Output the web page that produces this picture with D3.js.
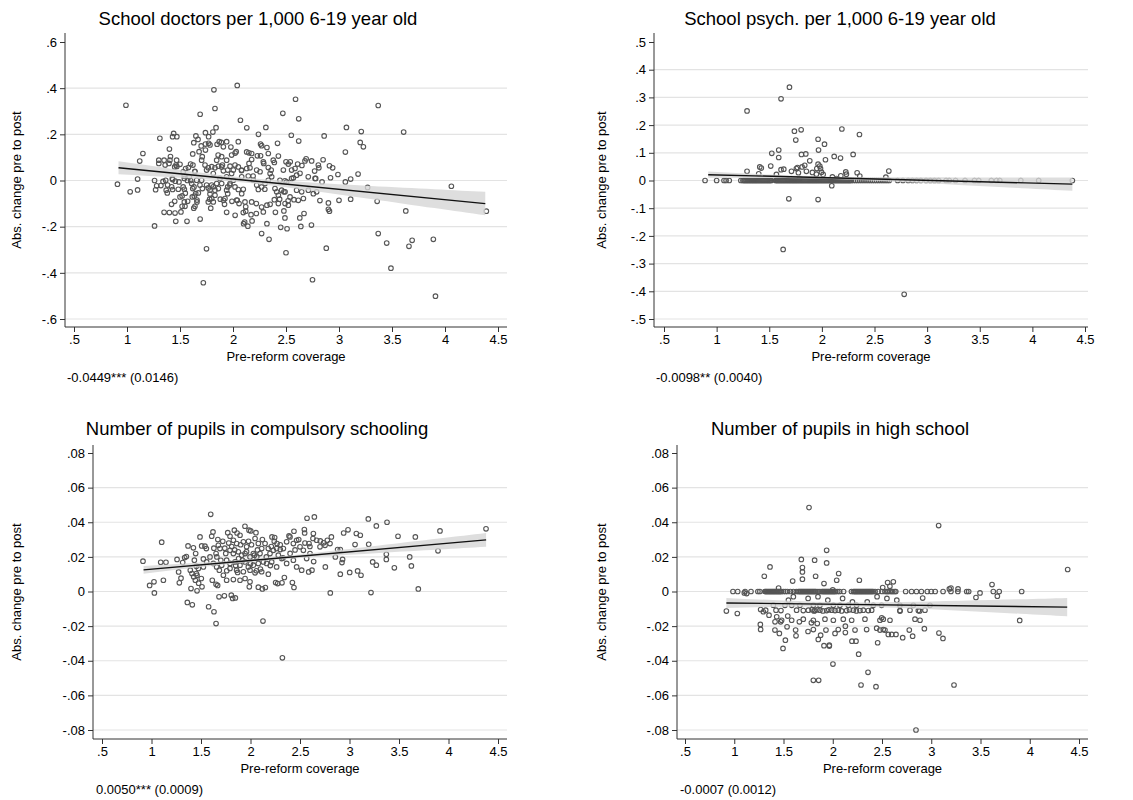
<!DOCTYPE html>
<html>
<head>
<meta charset="utf-8">
<script src="https://cdn.jsdelivr.net/npm/d3@7"></script>
<style>
  body { margin: 0; background: #fff; }
  svg text { font-family: "Liberation Sans", Arial, sans-serif; fill: #000; }
</style>
</head>
<body>
<div id="chart"></div>
<script>
// ---- data ----
var titles = [
    "School doctors per 1,000 6-19 year old",
    "School psych. per 1,000 6-19 year old",
    "Number of pupils in compulsory schooling",
    "Number of pupils in high school"
];
var notes = ["-0.0449*** (0.0146)", "-0.0098** (0.0040)", "0.0050*** (0.0009)", "-0.0007 (0.0012)"];
var xTitle = "Pre-reform coverage";
var yTitle = "Abs. change pre to post";

var xTicks = [0.5, 1, 1.5, 2, 2.5, 3, 3.5, 4, 4.5];
var yTicksDoc = [-0.6, -0.4, -0.2, 0, 0.2, 0.4, 0.6];
var yTicksPsy = [-0.5, -0.4, -0.3, -0.2, -0.1, 0, 0.1, 0.2, 0.3, 0.4, 0.5];
var yTicksPup = [-0.08, -0.06, -0.04, -0.02, 0, 0.02, 0.04, 0.06, 0.08];

// fitted line ends (x = min and max coverage) and CI half widths
var fitX = [0.92, 4.38];
var fitDoc = [0.055, -0.100];
var fitPsy = [0.021, -0.013];
var fitComp = [0.0125, 0.0298];
var fitHigh = [-0.0066, -0.0090];
var bandX = [0.92, 1.5, 2.1, 2.7, 3.3, 3.9, 4.38];
var bandDoc = [0.028, 0.017, 0.011, 0.017, 0.028, 0.041, 0.051];
var bandPsy = [0.0115, 0.0064, 0.0041, 0.008, 0.0135, 0.0193, 0.024];
var bandComp = [0.0022, 0.0013, 0.0008, 0.0013, 0.0022, 0.0032, 0.004];
var bandHigh = [0.0029, 0.00175, 0.0011, 0.00175, 0.0029, 0.0042, 0.0053];

var doctorPts = [
[0.91,-0.016],[0.99,0.326],[1.03,-0.049],[1.10,0.006],[1.10,-0.041],[1.12,0.084],[1.15,0.117],
[1.26,0.0],[1.26,-0.197],[1.27,-0.04],[1.28,-0.023],[1.31,0.183],[1.30,0.088],[1.30,0.074],[1.32,-0.022],
[1.34,-0.004],[1.35,-0.138],[1.35,0.088],[1.36,0.067],[1.37,-0.042],[1.38,-0.054],[1.40,-0.139],[1.40,0.136],
[1.41,0.104],[1.42,-0.103],[1.43,-0.039],[1.43,0.004],[1.43,0.19],[1.44,0.204],[1.46,-0.177],[1.45,-0.09],
[1.47,0.19],[1.45,0.059],[1.47,0.061],[1.49,-0.006],[1.50,0.07],[1.50,-0.071],[1.52,-0.112],[1.52,-0.067],
[1.53,-0.028],[1.53,0.038],[1.54,0.02],[1.55,-0.055],[1.57,0.0],[1.60,0.071],[1.60,0.0],[1.62,0.115],
[1.63,-0.12],[1.63,0.164],[1.62,-0.035],[1.64,0.04],[1.65,0.193],[1.66,-0.085],[1.66,-0.093],[1.67,0.178],
[1.68,0.125],[1.69,-0.167],[1.69,0.287],[1.70,0.15],[1.71,0.103],[1.72,-0.443],[1.74,0.207],[1.74,0.132],
[1.74,0.158],[1.83,0.312],[1.82,0.393],[1.75,-0.296],[1.77,0.19],[1.77,0.161],[1.81,0.21],[1.84,0.229],
[1.85,0.157],[1.86,0.11],[1.87,0.168],[1.79,-0.12],[1.78,-0.081],[1.88,-0.081],[1.89,0.165],[1.90,0.067],
[1.91,-0.086],[1.92,-0.103],[1.94,-0.138],[1.95,-0.057],[1.97,-0.02],[1.98,0.145],[1.99,-0.09],[2.02,-0.151],
[2.02,0.119],[2.03,0.125],[2.04,-0.086],[2.04,0.412],[2.07,0.261],[2.08,0.043],[2.10,-0.187],[2.11,-0.18],
[2.12,-0.133],[2.12,-0.114],[2.13,0.228],[2.14,-0.198],[2.15,0.12],[2.16,0.055],[2.18,-0.175],[2.19,0.019],
[2.22,-0.143],[2.23,0.107],[2.24,0.2],[2.26,0.107],[2.26,0.158],[2.27,0.151],[2.27,-0.23],[2.29,0.074],
[2.30,-0.038],[2.31,0.23],[2.32,0.143],[2.32,-0.107],[2.32,-0.187],[2.34,-0.255],[2.35,0.03],[2.35,-0.103],
[2.36,0.045],[2.39,0.078],[2.40,-0.138],[2.39,-0.083],[2.42,0.161],[2.44,-0.081],[2.45,-0.203],[2.47,0.291],
[2.48,-0.049],[2.48,-0.132],[2.49,-0.001],[2.49,-0.162],[2.50,0.081],[2.50,-0.313],[2.51,-0.209],[2.52,-0.088],
[2.54,0.081],[2.55,0.196],[2.57,0.012],[2.59,0.352],[2.60,0.023],[2.60,-0.042],[2.61,0.071],[2.62,0.267],
[2.62,0.171],[2.63,-0.162],[2.64,-0.199],[2.65,0.065],[2.67,-0.143],[2.69,0.094],[2.71,0.016],[2.74,-0.193],
[2.75,-0.43],[2.77,0.041],[2.78,0.009],[2.81,0.055],[2.82,-0.087],[2.84,-0.006],[2.85,0.09],[2.86,0.193],
[2.88,-0.293],[2.91,0.064],[2.90,-0.097],[2.90,-0.125],[2.91,-0.133],[2.92,0.012],[2.94,0.055],[2.99,0.026],
[3.00,-0.086],[3.06,-0.006],[3.06,0.123],[3.07,0.23],[3.11,-0.081],[3.11,0.006],[3.18,0.028],[3.20,0.165],
[3.21,0.212],[3.23,0.146],[3.27,-0.03],[3.37,0.325],[3.36,-0.09],[3.37,-0.23],[3.45,-0.271],[3.49,-0.38],
[3.61,0.21],[3.63,-0.132],[3.66,-0.285],[3.69,-0.259],[3.89,-0.255],[3.91,-0.501],[4.06,-0.025],[4.39,-0.133],
[1.405,0.088],[1.468,0.088],[1.396,0.074],[1.462,0.067],[1.553,0.052],[1.579,0.056],[1.622,0.067],[1.365,0.001],
[1.428,0.009],[1.456,-0.003],[1.383,-0.02],[1.421,-0.027],[1.484,-0.038],[1.541,-0.038],[1.541,0.009],[1.588,0.016],
[1.61,-0.013],[1.632,-0.028],[1.657,0.001],[1.648,-0.057],[1.616,-0.071],[1.635,-0.068],[1.673,-0.054],[1.541,-0.093],
[1.547,-0.112],[1.572,-0.09],[1.641,-0.112],[1.453,-0.141],[1.509,-0.136],[1.566,-0.177],[1.736,0.067],[1.751,0.045],
[1.767,0.055],[1.799,0.06],[1.83,0.055],[1.862,0.062],[1.893,0.059],[1.909,0.042],[1.95,0.045],[1.972,0.062],
[2.019,0.067],[2.05,0.059],[2.082,0.045],[2.129,0.052],[2.151,0.074],[2.176,0.091],[2.223,0.045],[2.255,0.038],
[2.286,0.081],[2.333,0.056],[1.751,-0.02],[1.767,-0.032],[1.783,-0.042],[1.799,-0.02],[1.814,-0.027],[1.83,-0.042],
[1.846,-0.013],[1.862,-0.035],[1.783,-0.059],[1.799,-0.078],[1.767,-0.093],[1.814,-0.093],[1.924,-0.078],[1.94,-0.042],
[1.972,-0.013],[2.003,0.001],[2.019,-0.028],[2.05,-0.039],[2.082,-0.057],[2.097,-0.038],[2.035,-0.085],[2.057,-0.1],
[2.113,-0.093],[2.176,-0.093],[2.22,-0.1],[2.097,-0.139],[2.17,-0.148],[2.27,-0.115],[2.286,-0.136],[2.223,-0.02],
[2.239,-0.039],[2.27,-0.028],[2.302,-0.013],[2.333,0.001],[2.396,-0.035],[2.412,-0.049],[2.428,-0.064],[2.459,-0.042],
[2.491,-0.049],[2.538,-0.071],[2.428,-0.1],[2.491,-0.1],[2.522,-0.107],[2.575,-0.083],[2.616,-0.086],[2.333,0.117],
[2.38,0.088],[2.428,0.106],[2.475,0.045],[2.522,0.071],[2.553,0.045],[2.585,0.052],[2.632,0.031],[2.679,0.085],
[2.742,0.085],[2.805,0.067],[2.774,0.009],[2.711,-0.042],[2.758,-0.057],[2.789,-0.049],[2.648,-0.049],[2.664,-0.078],
[1.893,0.103],[1.94,0.088],[1.987,0.11],[2.129,0.124],[2.176,0.117],[2.003,0.045],[1.814,0.03],[1.877,0.009],
[1.94,0.016],[1.987,0.03],[2.082,0.016],[2.144,0.019],[2.192,0.001],[2.365,0.016],[2.443,0.001],[2.506,-0.006],
[2.553,0.009],[1.846,0.088],[1.909,0.146],[1.94,0.168],[2.05,0.168],[1.783,0.154],[1.704,0.088],[1.641,0.038],
[1.704,0.001],[1.711,-0.035],[1.688,-0.02],[1.893,-0.013],[1.95,-0.028],[1.83,-0.064]
];

var psychPts = [
[1.289,0.251],[1.612,0.295],[1.692,0.337],[1.632,-0.249],[1.686,-0.066],[1.739,0.178],[1.803,0.183],[1.752,0.146],
[1.964,0.149],[1.968,0.11],[2.025,0.131],[2.19,0.186],[2.357,0.166],[1.59,0.11],[1.59,0.083],[1.524,0.098],
[1.806,0.094],[1.847,0.096],[1.885,0.071],[2.034,0.075],[2.117,0.087],[2.177,0.081],[2.297,0.094],[1.964,-0.069],
[2.782,-0.411],[2.094,-0.019],[1.289,0.033],[1.41,0.049],[1.425,0.045],[1.514,0.052],[1.4,0.024],[1.568,0.022],
[1.612,0.039],[1.638,0.041],[1.711,0.033],[1.758,0.043],[1.768,0.047],[1.777,0.028],[1.812,0.049],[1.837,0.055],
[1.853,0.033],[1.91,0.029],[1.952,0.043],[1.964,0.059],[1.98,0.052],[1.987,0.043],[1.996,0.03],[2.012,0.022],
[1.948,0.023],[1.942,0.007],[2.1,0.013],[2.18,0.017],[2.227,0.031],[2.233,0.023],[2.335,0.028],[2.608,0.012],
[2.636,0.034],[2.36,0.016],[2.14,0.007],[1.79,0.007],[1.68,0.001]
];
// municipalities with no change in school psychologists (dense row at 0)
var psychZeroX = [0.89, 1.0, 1.07, 1.09, 1.12,
    1.23, 1.25, 1.26, 1.27, 1.28, 1.29, 1.3, 1.31, 1.32, 1.33, 1.34, 1.35, 1.36, 1.37, 1.38, 1.39, 1.4, 1.41,
    1.42, 1.43, 1.44, 1.45, 1.46, 1.47, 1.48, 1.49, 1.5, 1.51, 1.52,
    1.56, 1.57, 1.58, 1.59, 1.6, 1.61, 1.62, 1.63, 1.64, 1.65, 1.66, 1.67, 1.68, 1.69, 1.7, 1.71, 1.72, 1.73,
    1.74, 1.75, 1.76, 1.77, 1.78, 1.79, 1.8, 1.81, 1.82, 1.83, 1.84, 1.85, 1.86, 1.87, 1.88, 1.89, 1.9, 1.91,
    1.92, 1.93, 1.94, 1.95, 1.96, 1.97, 1.98, 1.99, 2.0, 2.01, 2.02, 2.03, 2.04, 2.05, 2.06, 2.07, 2.08, 2.09,
    2.1, 2.11, 2.12, 2.13, 2.14, 2.15, 2.16, 2.17, 2.18, 2.19, 2.2, 2.21, 2.22, 2.23, 2.24, 2.25, 2.26, 2.27,
    2.28, 2.3, 2.32, 2.34, 2.36, 2.38, 2.4, 2.42, 2.44, 2.46, 2.48, 2.5, 2.52, 2.54, 2.56, 2.58, 2.6, 2.62, 2.64,
    2.72, 2.77, 2.82, 2.86, 2.9, 2.94, 2.99, 3.03, 3.07, 3.11, 3.18, 3.21, 3.27, 3.36, 3.45, 3.49, 3.61, 3.66,
    3.69, 3.89, 4.06, 4.38];

var compulsoryPts = [
[0.914,0.0175],[0.981,0.0035],[1.025,0.0056],[1.029,-0.0008],[1.103,0.0285],[1.093,0.0169],[1.146,0.0169],[1.12,0.0065],
[1.258,0.0185],[1.274,0.0113],[1.281,0.005],[1.298,0.0077],[1.315,0.0167],[1.335,0.0196],[1.352,0.0202],[1.362,-0.0063],
[1.369,0.0263],[1.399,0.0017],[1.412,-0.0077],[1.423,0.0252],[1.433,0.0181],[1.446,0.0219],[1.453,0.0146],[1.46,0.0094],
[1.46,0.0004],[1.476,0.0048],[1.49,0.0315],[1.503,0.0075],[1.51,0.0027],[1.507,0.0263],[1.524,0.0188],[1.54,0.0262],
[1.554,0.0248],[1.392,0.0123],[1.409,0.0104],[1.426,0.0085],[1.443,0.0065],[1.453,0.0104],[1.473,0.0133],[1.577,-0.0088],
[1.598,0.0446],[1.614,0.0065],[1.621,0.0344],[1.631,-0.0117],[1.652,-0.0185],[1.652,0.0042],[1.668,0.0035],[1.682,-0.0031],
[1.736,-0.0025],[1.806,-0.0021],[1.82,-0.004],[1.847,-0.0037],[1.837,0.0354],[1.864,0.0338],[1.944,0.0377],[1.985,0.0354],
[2.055,0.034],[1.988,0.0027],[2.079,0.0025],[2.12,0.0015],[2.15,0.0023],[2.126,-0.0171],[2.322,-0.0383],[2.217,0.0315],
[2.244,0.0312],[2.268,0.0277],[2.301,0.0242],[2.328,0.0194],[2.342,0.0081],[2.254,0.0052],[2.274,0.0046],[2.318,0.005],
[2.389,0.0321],[2.439,0.0348],[2.423,0.0052],[2.439,0.0023],[2.487,0.03],[2.544,0.0358],[2.547,0.0338],[2.571,0.0423],
[2.645,0.0431],[2.588,0.0113],[2.621,0.0123],[2.638,0.0173],[2.591,0.0277],[2.631,0.0306],[2.705,0.0292],[2.739,0.0281],
[2.756,0.0142],[2.776,0.0296],[2.817,0.0315],[2.806,-0.0008],[2.857,0.02],[2.88,0.0242],[2.907,0.01],[2.924,0.0167],
[2.941,0.0338],[2.985,0.0356],[3.002,0.011],[3.056,0.0271],[3.069,0.0335],[3.109,0.0325],[3.082,0.0119],[3.116,0.0094],
[3.194,0.0273],[3.19,0.0419],[3.217,-0.0006],[3.234,0.0171],[3.271,0.0379],[3.271,0.0152],[3.372,0.0185],[3.379,0.04],
[3.372,0.0215],[3.453,0.0137],[3.49,0.0319],[3.608,0.02],[3.625,0.0148],[3.665,0.0315],[3.695,0.0015],[3.894,0.0235],
[3.914,0.035],[4.379,0.0362],[2.907,0.0242],[2.93,0.0185],
[1.608,0.0319],[1.675,0.0267],[1.652,0.0219],[1.692,0.0248],[1.77,0.034],[1.793,0.0319],[1.827,0.0296],[1.86,0.0277],
[1.894,0.0325],[1.928,0.0287],[1.961,0.0258],[2.002,0.035],[2.046,0.0306],[2.079,0.0277],[2.113,0.0248],[2.147,0.0277],
[2.18,0.0248],[2.197,0.0219],[2.231,0.0238],[2.264,0.0248],[1.793,0.0238],[1.827,0.0219],[1.877,0.0229],[1.911,0.021],
[1.945,0.0219],[1.995,0.02],[2.029,0.0219],[2.063,0.02],[2.096,0.0219],[1.759,0.0181],[1.793,0.0162],[1.844,0.0171],
[1.894,0.0152],[1.945,0.0171],[1.978,0.0142],[2.029,0.0152],[2.079,0.0162],[2.13,0.0171],[2.163,0.0162],[1.793,0.0133],
[1.86,0.0123],[1.928,0.0114],[1.995,0.0123],[2.046,0.0108],[2.113,0.0114],[1.827,0.0069],[1.894,0.0065],[1.945,0.0075],
[1.995,0.0056],[1.759,0.0065],[1.726,0.0094],[1.685,0.0123],[1.709,0.0152],[1.658,0.0142],[1.625,0.0162],[1.591,0.02],
[1.557,0.0171],[1.524,0.0142],[2.365,0.0287],[2.399,0.0315],[2.433,0.0277],[2.466,0.0296],[2.5,0.0258],[2.534,0.0238],
[2.315,0.019],[2.365,0.0162],[2.433,0.0181],[2.466,0.0142],[2.517,0.0123],[2.567,0.019],[2.601,0.0219],[2.635,0.0335],
[2.668,0.0296],[2.702,0.0258],[2.753,0.0267],[2.803,0.0277],[2.264,0.0142],[2.214,0.0171],[2.281,0.021],[2.332,0.0248],
[1.72,0.029],[1.75,0.022],[1.81,0.026],[1.88,0.019],[1.96,0.023],[2.01,0.027],[2.07,0.024],[2.16,0.02],[2.21,0.026],
[1.66,0.02],[1.7,0.018],[1.85,0.015],[1.92,0.018],[2.0,0.016],[2.1,0.013],[2.2,0.015],[1.67,0.03],[1.74,0.025],
[1.78,0.028],[1.84,0.024],[1.9,0.027],[1.98,0.029],[2.04,0.021],[2.12,0.03],[2.24,0.029],[2.3,0.027],[1.63,0.025],
[1.76,0.012],[1.87,0.011],[2.06,0.012],[2.18,0.01],[2.4,0.022],[2.55,0.028],[2.6,0.026],[2.45,0.024]
];

var highPts = [
[0.92,-0.0113],[0.987,0],[1.035,0],[1.031,-0.0127],[1.102,-0.0008],[1.126,-0.0012],[1.305,0.0088],[1.363,0.0142],
[1.265,-0.019],[1.268,-0.0219],[1.268,-0.0104],[1.295,-0.0117],[1.319,-0.0108],[1.353,-0.0137],[1.397,-0.0079],[1.414,-0.0175],
[1.431,-0.0146],[1.458,-0.0242],[1.471,-0.0175],[1.495,-0.0329],[1.519,-0.0281],[1.536,-0.0204],[1.543,-0.0142],[1.593,0.006],
[1.627,-0.0256],[1.661,-0.0175],[1.681,0.0185],[1.692,0.0138],[1.692,0.0113],[1.692,0.0071],[1.749,-0.0231],[1.759,0.0485],
[1.783,-0.0181],[1.816,0.0181],[1.803,-0.0513],[1.857,-0.0513],[1.826,0.0088],[1.843,-0.0185],[1.853,-0.0277],[1.877,-0.0252],
[1.911,0.0046],[1.911,-0.0313],[1.938,0.0238],[1.938,0.0165],[1.965,-0.031],[1.965,-0.0315],[2.002,-0.0419],[2.023,-0.0242],
[2.04,0.0065],[2.06,0.0104],[2.128,-0.02],[2.128,-0.0237],[2.195,-0.0287],[2.236,-0.0287],[2.263,-0.0362],[2.27,0.0065],
[2.287,-0.054],[2.358,-0.0467],[2.446,-0.0212],[2.439,-0.055],[2.456,-0.0296],[2.497,-0.0152],[2.507,0.0023],[2.53,-0.0223],
[2.557,0.0052],[2.564,-0.0248],[2.615,0.0056],[2.598,-0.0248],[2.642,-0.0248],[2.683,-0.0113],[2.71,-0.0267],[2.811,-0.0258],
[2.845,-0.08],[2.882,-0.0112],[2.913,-0.0038],[2.93,-0.0215],[3.075,0.0381],[3.078,-0.024],[3.119,-0.0271],[3.231,-0.054],
[3.184,0.0015],[3.272,0.0015],[3.454,-0.0035],[3.495,-0.0008],[3.617,0.004],[3.671,-0.0027],[3.898,-0.0167],[3.918,0],
[4.385,0.0127],
[1.515,-0.008],[1.583,-0.008],[1.667,-0.008],[1.803,-0.008],[1.87,-0.008],[2.006,-0.008],[2.073,-0.008],[2.158,-0.008],
[2.242,-0.008],[2.412,-0.008],[2.496,-0.008],[2.682,-0.008],[2.818,-0.008],[2.987,-0.008],
[1.424,-0.0108],[1.474,-0.011],[1.633,-0.0108],[1.701,-0.011],[1.752,-0.0108],[1.819,-0.011],[1.87,-0.0108],[1.938,-0.011],
[1.989,-0.0108],[2.023,-0.011],[2.056,-0.0108],[2.141,-0.011],[2.209,-0.0108],[2.276,-0.011],[2.31,-0.0108],[2.361,-0.011],
[2.395,-0.0108],[2.682,-0.011],[2.784,-0.0108],[2.869,-0.011],[2.936,-0.0108],
[1.79,-0.0105],[1.81,-0.0112],[1.84,-0.0106],[1.9,-0.0112],[1.96,-0.0106],[2.09,-0.0112],[2.17,-0.0106],[2.24,-0.0112],
[1.481,-0.0166],[1.583,-0.0166],[1.701,-0.016],[1.803,-0.0166],[1.921,-0.016],[2.006,-0.0166],[2.107,-0.016],[2.192,-0.0166],
[2.327,-0.016],[2.479,-0.0166],[2.513,-0.016],[2.581,-0.0166],[2.835,-0.016],[2.886,-0.0166],
[1.413,-0.0223],[1.623,-0.0223],[1.803,-0.022],[1.931,-0.0223],[2.056,-0.022],[2.226,-0.0223],[2.344,-0.022],[2.479,-0.0223],
[2.513,-0.022],[2.777,-0.0223],
[1.6,-0.003],[1.75,-0.004],[1.95,-0.005],[2.2,-0.006],[2.35,-0.006],[2.45,-0.003],[2.55,-0.004],[1.45,0.002],[2.0,0.001],
[2.58,0.003],[3.2,0.002],[1.55,-0.005],[2.1,-0.004],[2.65,-0.005],[1.85,-0.003]
];
// municipalities with no change in high school pupils (dense row at 0)
var highZeroX = [1.11, 1.17, 1.24, 1.26,
    1.31, 1.32, 1.33, 1.34, 1.35, 1.36, 1.37, 1.38, 1.39, 1.4, 1.41, 1.42, 1.43, 1.44, 1.45, 1.46, 1.47, 1.48,
    1.5, 1.52, 1.54, 1.57, 1.6, 1.63, 1.65, 1.66, 1.67, 1.68, 1.69, 1.7, 1.71, 1.72, 1.73, 1.74, 1.75, 1.76,
    1.77, 1.78, 1.79, 1.8, 1.81, 1.82, 1.83, 1.85, 1.87, 1.89, 1.9, 1.91, 1.92, 1.93, 1.94, 1.95, 1.96, 1.97,
    1.98, 1.99, 2.0, 2.01, 2.02, 2.03, 2.05, 2.07, 2.11, 2.19, 2.21, 2.22, 2.23, 2.24, 2.25, 2.26, 2.27, 2.28,
    2.29, 2.3, 2.31, 2.32, 2.33, 2.34, 2.35, 2.36, 2.37, 2.38, 2.39, 2.4, 2.41, 2.43, 2.46, 2.5, 2.53, 2.55,
    2.56, 2.58, 2.6, 2.61, 2.63, 2.64, 2.74, 2.8, 2.85, 2.9, 2.96, 3.0, 3.04, 3.12, 3.2, 3.27, 3.36, 3.38,
    3.63, 3.69];

// ---- layout ----
var W = 1133, H = 800;
var svg = d3.select("#chart").append("svg").attr("width", W).attr("height", H);

function stataFmt(d) {
    var s = String(+d.toFixed(3));
    return s.replace(/^(-?)0\./, "$1.");
}

var panels = [
    { title: titles[0], note: notes[0], ticks: yTicksDoc, fit: fitDoc, band: bandDoc,
      pts: doctorPts, zeros: [],
      axisX: 65, right: 507, top: 33, bottom: 327, x0: 74, x1: 498, yMaxPx: 42, yMinPx: 319,
      titleX: 258, titleY: 25, yLabX: 21, noteX: 67 },
    { title: titles[1], note: notes[1], ticks: yTicksPsy, fit: fitPsy, band: bandPsy,
      pts: psychPts, zeros: psychZeroX,
      axisX: 654, right: 1088, top: 33, bottom: 327, x0: 664, x1: 1085, yMaxPx: 42, yMinPx: 319,
      titleX: 840, titleY: 25, yLabX: 606, noteX: 656 },
    { title: titles[2], note: notes[2], ticks: yTicksPup, fit: fitComp, band: bandComp,
      pts: compulsoryPts, zeros: [],
      axisX: 93, right: 507, top: 445, bottom: 739, x0: 102, x1: 498, yMaxPx: 453, yMinPx: 730,
      titleX: 257, titleY: 435, yLabX: 21, noteX: 96 },
    { title: titles[3], note: notes[3], ticks: yTicksPup, fit: fitHigh, band: bandHigh,
      pts: highPts, zeros: highZeroX,
      axisX: 677, right: 1088, top: 445, bottom: 739, x0: 685, x1: 1079, yMaxPx: 453, yMinPx: 730,
      titleX: 840, titleY: 435, yLabX: 606, noteX: 680 }
];

panels.forEach(function (p) {
    var g = svg.append("g");
    var x = d3.scaleLinear().domain([0.5, 4.5]).range([p.x0, p.x1]);
    var y = d3.scaleLinear()
        .domain([d3.min(p.ticks), d3.max(p.ticks)])
        .range([p.yMinPx, p.yMaxPx]);

    // grid (no line at the top tick)
    g.selectAll(".grid")
        .data(p.ticks.filter(function (t) { return t !== d3.max(p.ticks); }))
        .enter().append("line")
        .attr("x1", p.axisX).attr("x2", p.right)
        .attr("y1", function (d) { return y(d); })
        .attr("y2", function (d) { return y(d); })
        .attr("stroke", "#e3e3e3").attr("stroke-width", 1.2);

    var all = p.pts.concat(p.zeros.map(function (v) { return [v, 0]; }));
    g.selectAll(".pt")
        .data(all)
        .enter().append("circle")
        .attr("cx", function (d) { return x(d[0]); })
        .attr("cy", function (d) { return y(d[1]); })
        .attr("r", 2.3)
        .attr("fill", "none")
        .attr("stroke", "#555")
        .attr("stroke-width", 1.1);

    // confidence band + fitted line
    var slope = (p.fit[1] - p.fit[0]) / (fitX[1] - fitX[0]);
    function fitAt(v) { return p.fit[0] + slope * (v - fitX[0]); }
    var bandData = bandX.map(function (v, i) { return { x: v, h: p.band[i] }; });
    var area = d3.area()
        .x(function (d) { return x(d.x); })
        .y0(function (d) { return y(fitAt(d.x) - d.h); })
        .y1(function (d) { return y(fitAt(d.x) + d.h); })
        .curve(d3.curveNatural);
    g.append("path").datum(bandData)
        .attr("d", area)
        .attr("fill", "#d6d6d6").attr("fill-opacity", 0.8);

    g.append("path")
        .datum(fitX.map(function (v, i) { return [v, p.fit[i]]; }))
        .attr("d", d3.line()
            .x(function (d) { return x(d[0]); })
            .y(function (d) { return y(d[1]); }))
        .attr("stroke", "#111").attr("stroke-width", 1.4).attr("fill", "none");

    // axes
    var yAxis = g.append("g")
        .attr("transform", "translate(" + p.axisX + ",0)")
        .call(d3.axisLeft(y).tickValues(p.ticks).tickFormat(stataFmt).tickSize(5).tickSizeOuter(0).tickPadding(3));
    var xAxis = g.append("g")
        .attr("transform", "translate(0," + p.bottom + ")")
        .call(d3.axisBottom(x).tickValues(xTicks).tickFormat(stataFmt).tickSize(5).tickSizeOuter(0).tickPadding(3));
    [yAxis, xAxis].forEach(function (a) {
        a.select(".domain").remove();
        a.selectAll("line").attr("stroke", "#333");
        a.selectAll("text").style("font-size", "13px")
            .style("font-family", '"Liberation Sans", Arial, sans-serif').attr("fill", "#000");
    });
    g.append("line").attr("x1", p.axisX).attr("x2", p.axisX)
        .attr("y1", p.top).attr("y2", p.bottom).attr("stroke", "#333");
    g.append("line").attr("x1", p.axisX).attr("x2", p.right)
        .attr("y1", p.bottom).attr("y2", p.bottom).attr("stroke", "#333");

    // texts
    g.append("text").attr("x", p.titleX).attr("y", p.titleY)
        .attr("text-anchor", "middle").style("font-size", "18.5px").text(p.title);
    g.append("text").attr("x", (p.axisX + p.right) / 2).attr("y", p.bottom + 34)
        .attr("text-anchor", "middle").style("font-size", "13px").text(xTitle);
    g.append("text")
        .attr("transform", "translate(" + p.yLabX + "," + (p.top + p.bottom) / 2 + ")rotate(-90)")
        .attr("text-anchor", "middle").style("font-size", "13px").text(yTitle);
    g.append("text").attr("x", p.noteX).attr("y", p.bottom + 55)
        .style("font-size", "13px").text(p.note);
});
</script>
</body>
</html>
